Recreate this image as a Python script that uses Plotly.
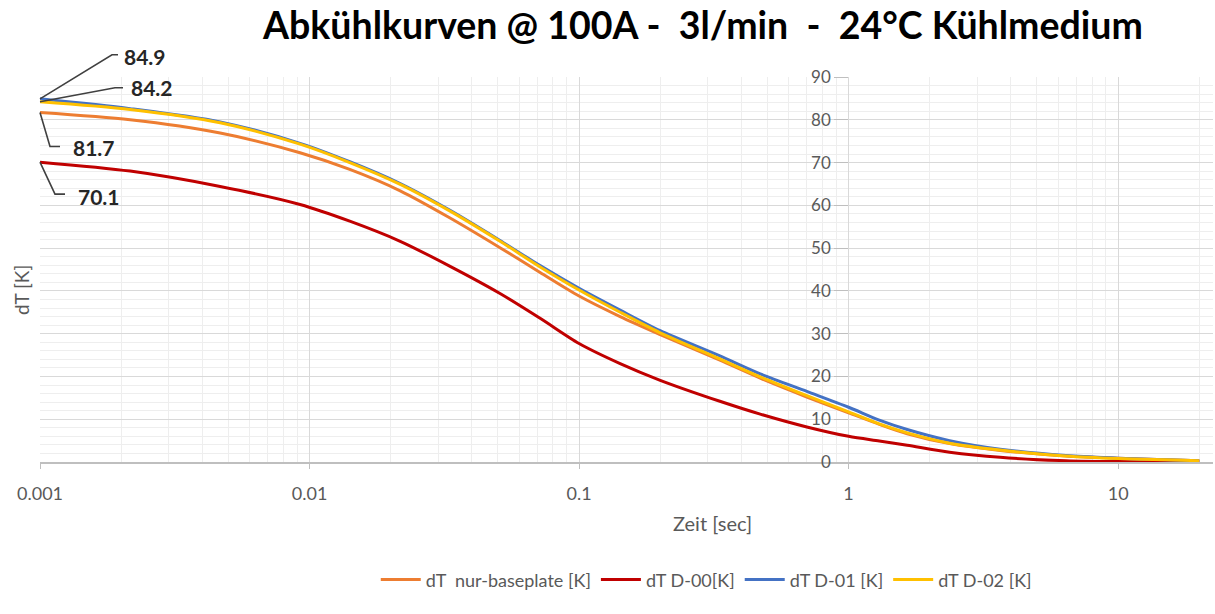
import plotly.graph_objects as go

# Zeitpunkte [s] und Temperaturdifferenzen [K]
zeit = [0.001, 0.00216, 0.00466, 0.00922, 0.0141, 0.0217, 0.0331, 0.0509, 0.0717,
        0.1, 0.142, 0.2, 0.333, 0.47, 0.7, 1.0, 1.3, 1.65, 2.37, 3.65, 6.4, 10, 15, 20]

dt_baseplate = [81.7, 80.0, 76.9, 72.3, 68.4, 63.4, 57.1, 50.1, 44.3,
                38.8, 34.0, 29.8, 23.8, 19.6, 15.2, 11.5, 8.8, 6.6, 4.3, 2.7, 1.4, 0.9, 0.5, 0.3]
dt_d00 = [70.1, 68.0, 64.4, 60.2, 56.3, 51.6, 45.8, 39.4, 33.6,
          27.7, 23.0, 19.1, 14.2, 11.2, 8.2, 6.0, 4.9, 3.9, 2.3, 1.1, 0.3, 0.1, 0.1, 0.2]
dt_d01 = [84.9, 82.6, 79.5, 74.5, 70.2, 65.1, 58.9, 51.8, 45.9,
          40.6, 35.5, 30.7, 24.8, 20.6, 16.5, 12.8, 9.8, 7.6, 5.0, 3.0, 1.5, 0.9, 0.5, 0.3]
dt_d02 = [84.2, 82.4, 79.3, 74.3, 70.0, 64.9, 58.7, 51.6, 45.6,
          40.2, 35.0, 30.2, 24.1, 19.9, 15.5, 11.7, 8.9, 6.8, 4.4, 2.8, 1.4, 0.8, 0.5, 0.3]

series_names = ["dT  nur-baseplate [K]", "dT D-00[K]", "dT D-01 [K]", "dT D-02 [K]"]
series_values = [dt_baseplate, dt_d00, dt_d01, dt_d02]
series_colors = ["#ED7D31", "#C00000", "#4472C4", "#FFC000"]

x_tickvals = [0.001, 0.01, 0.1, 1, 10]
x_ticktext = ["0.001", "0.01", "0.1", "1", "10"]
y_range = [0, 90]
y_tickvals = list(range(0, 91, 10))

# Datenbeschriftungen am Startpunkt: (Wert, Knickpunkt der Führungslinie, Linienende, Textversatz)
callouts = [
    (dt_d01[0], (72, 44), (78, 44), (82, 42)),
    (dt_d02[0], (75, 14), (83, 14), (89, 14)),
    (dt_baseplate[0], (10, -34), (20, -34), (31, -35)),
    (dt_d00[0], (15, -32), (25, -32), (36, -34)),
]

FONT = "Lato"
GREY = "#595959"

fig = go.Figure()
for name, vals, col in zip(series_names, series_values, series_colors):
    fig.add_trace(go.Scatter(
        x=zeit, y=vals, name=name, mode="lines",
        line=dict(color=col, width=3, shape="spline", smoothing=0.8),
    ))

for val, knick, ende, txt in callouts:
    # Führungslinie in Pixeln relativ zum ersten Messpunkt (linker Rand)
    fig.add_shape(
        type="path", xref="paper", yref="paper",
        xsizemode="pixel", ysizemode="pixel",
        xanchor=0, yanchor=(val - y_range[0]) / (y_range[1] - y_range[0]),
        path=f"M 0 0 L {knick[0]} {knick[1]} L {ende[0]} {ende[1]}",
        line=dict(color="#404040", width=1.6),
    )
    fig.add_annotation(
        x=-3, y=val, xref="x", yref="y", text=f"<b>{val:.1f}</b>",
        showarrow=False, xanchor="left", yanchor="middle",
        xshift=txt[0], yshift=txt[1],
        font=dict(family=FONT, size=21, color="#262626"),
    )

fig.add_annotation(
    x=0.565, y=1.137, xref="paper", yref="paper",
    text="<b>Abkühlkurven @ 100A -  3l/min  -  24°C Kühlmedium</b>",
    showarrow=False, xanchor="center", yanchor="middle",
    font=dict(family=FONT, size=37.5, color="#000000"),
)
fig.add_annotation(
    x=-0.0153, y=0.447, xref="paper", yref="paper", text="dT [K]",
    textangle=-90, showarrow=False, xanchor="center", yanchor="middle",
    font=dict(family=FONT, size=19, color=GREY),
)
fig.add_annotation(
    x=0.573, y=-0.158, xref="paper", yref="paper", text="Zeit [sec]",
    showarrow=False, xanchor="center", yanchor="middle",
    font=dict(family=FONT, size=20, color=GREY),
)

fig.update_layout(
    width=1215, height=614,
    margin=dict(l=40, r=2, t=77, b=152),
    paper_bgcolor="white", plot_bgcolor="white",
    font=dict(family=FONT, size=16, color=GREY),
    showlegend=True,
    legend=dict(
        orientation="h", x=0.568, y=-0.306, xanchor="center", yanchor="middle",
        font=dict(family=FONT, size=18, color=GREY), bgcolor="rgba(0,0,0,0)",
        itemwidth=40,
    ),
    xaxis=dict(
        type="log", range=[-3, 1.352],
        tickvals=x_tickvals, ticktext=x_ticktext,
        showgrid=True, gridcolor="#d9d9d9", gridwidth=1,
        minor=dict(dtick="D1", showgrid=True, gridcolor="#eeeeee", gridwidth=1,
                   ticks=""),
        showline=True, linecolor="#bfbfbf", linewidth=1.5,
        ticks="outside", ticklen=5, tickcolor="#bfbfbf",
        ticklabelstandoff=10,
        tickfont=dict(family=FONT, size=18, color=GREY),
        zeroline=False,
    ),
    yaxis=dict(
        range=y_range, tickvals=y_tickvals,
        anchor="free", position=0.689,
        showgrid=True, gridcolor="#d9d9d9", gridwidth=1,
        minor=dict(dtick=2, showgrid=True, gridcolor="#eeeeee", gridwidth=1,
                   ticks=""),
        showline=False,
        ticks="outside", ticklen=14, tickcolor="#bfbfbf",
        tickfont=dict(family=FONT, size=17, color=GREY),
        zeroline=False,
    ),
)

fig.write_html("out.html")
